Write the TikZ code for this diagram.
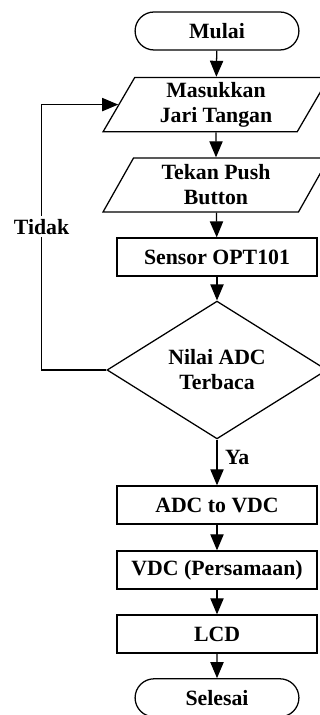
\documentclass[tikz,border=0pt]{standalone}
\usepackage{fontspec}
\setmainfont{Liberation Serif}
\usetikzlibrary{shapes.geometric, shapes.misc, arrows.meta}

\tikzset{
	every node/.style={font=\fontsize{15.5}{17.8}\selectfont\bfseries, align=center},
	terminal/.style={draw, line width=0.9pt, rounded rectangle, minimum width=4.33cm, minimum height=0.95cm},
	inout/.style={draw, line width=0.9pt, trapezium, trapezium left angle=68, trapezium right angle=112,
		trapezium stretches=true, minimum width=5.65cm, minimum height=1.35cm, inner xsep=0pt},
	process/.style={draw, line width=0.9pt, rectangle, minimum width=5cm, minimum height=0.95cm},
	decision/.style={draw, line width=0.9pt, diamond, minimum width=5.5cm, minimum height=3.35cm, inner sep=0pt},
	flow/.style={line width=0.9pt, -{Triangle[length=0.4cm, width=0.33cm]}}
}

\begin{document}
\begin{tikzpicture}
		\useasboundingbox (0, 0) rectangle (8, 17.875);

		\node[terminal] (mulai) at (5.425, 17.1) {Mulai};
		\node[inout] (masuk) at (5.4, 15.26) {Masukkan\\Jari Tangan};
		\node[inout] (tekan) at (5.4, 13.25) {Tekan Push\\Button};
		\node[process] (sensor) at (5.425, 11.45) {Sensor OPT101};
		\node[decision] (baca) at (5.425, 8.625) {Nilai ADC\\Terbaca};
		\node[process] (konversi) at (5.425, 5.25) {ADC to VDC};
		\node[process] (vdc) at (5.425, 3.625) {VDC (Persamaan)};
		\node[process] (lcd) at (5.425, 2.025) {LCD};
		\node[terminal] (selesai) at (5.425, 0.43) {Selesai};

		\draw[flow] (mulai) -- (masuk);
		\draw[flow] (masuk) -- (tekan);
		\draw[flow] (tekan) -- (sensor);
		\draw[flow] (sensor) -- (baca);
		\draw[flow] (baca) -- node[pos=0.4, right=2pt] {Ya} (konversi);
		\draw[flow] (konversi) -- (vdc);
		\draw[flow] (vdc) -- (lcd);
		\draw[flow] (lcd) -- (selesai);

		% loop back
		\draw[flow] (baca.west) -- ++(-1.62, 0) |- node[pos=0.27, fill=white, inner sep=2pt] {Tidak} (masuk.west);
	\end{tikzpicture}
\end{document}
